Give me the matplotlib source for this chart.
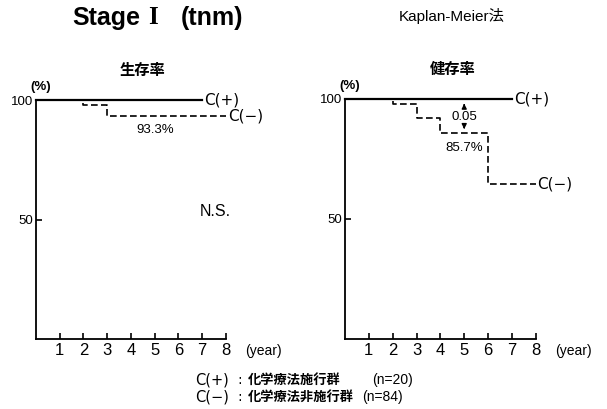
import matplotlib.pyplot as plt

plt.rcParams['font.family'] = ['Noto Sans CJK JP', 'DejaVu Sans']
LATIN = ['Liberation Sans', 'Noto Sans CJK JP']

# Kaplan-Meier step data (year, %)
os_plus_t = [0, 7]
os_plus_s = [100, 100]
os_minus_t = [0, 2, 3, 8]
os_minus_s = [100, 98, 93.3, 93.3]

dfs_plus_t = [0, 7]
dfs_plus_s = [100, 100]
dfs_minus_t = [0, 2, 3, 4, 6, 8]
dfs_minus_s = [100, 98, 92, 85.7, 64.5, 64.5]

year_ticks = [1, 2, 3, 4, 5, 6, 7, 8]
pct_ticks = [50, 100]

fig = plt.figure(figsize=(6.07, 4.09), dpi=100)
ax1 = fig.add_axes([0.0593, 0.1711, 0.3130, 0.5844])
ax2 = fig.add_axes([0.5684, 0.1720, 0.3142, 0.5860])


def setup(ax, title):
    ax.set_xlim(0, 8)
    ax.set_ylim(0, 100)
    for s in ["top", "right"]:
        ax.spines[s].set_visible(False)
    for s in ["left", "bottom"]:
        ax.spines[s].set_linewidth(1.3)
    ax.set_xticks(year_ticks)
    ax.set_yticks(pct_ticks)
    ax.tick_params(axis="x", direction="in", length=4, width=1.2, labelsize=12, pad=3)
    ax.tick_params(axis="y", direction="in", length=4, width=1.2, labelsize=9.5, pad=2)
    for lab in ax.get_xticklabels() + ax.get_yticklabels():
        lab.set_family("Liberation Sans")
    ax.text(8.8, -5, "(year)", fontsize=10, ha="left", va="center",
            family=LATIN, clip_on=False)
    ax.text(0.2, 105.5, "(%)", fontsize=9.5, ha="center", va="center",
            fontweight="bold", family=LATIN)
    ax.text(4.5, 112.5, title, fontsize=11, ha="center", va="center", fontweight="bold")


setup(ax1, "生存率")
setup(ax2, "健存率")

dash = (0, (4, 2))

ax1.step(os_plus_t, os_plus_s, where="post", color="black", lw=1.6, clip_on=False)
ax1.step(os_minus_t, os_minus_s, where="post", color="black", lw=1.2,
         linestyle=dash, clip_on=False)
ax1.text(7.1, 100, "C(+)", fontsize=11, ha="left", va="center", family="DejaVu Sans")
ax1.text(8.1, 93.3, "C(−)", fontsize=11, ha="left", va="center", family="DejaVu Sans")
ax1.text(5.0, 87.5, "93.3%", fontsize=9.5, ha="center", va="center", family=LATIN)
ax1.text(6.9, 53.5, "N.S.", fontsize=11.5, ha="left", va="center", family=LATIN)

ax2.step(dfs_plus_t, dfs_plus_s, where="post", color="black", lw=1.6, clip_on=False)
ax2.step(dfs_minus_t, dfs_minus_s, where="post", color="black", lw=1.2,
         linestyle=dash, clip_on=False)
ax2.text(7.1, 100, "C(+)", fontsize=11, ha="left", va="center", family="DejaVu Sans")
ax2.text(8.05, 64.5, "C(−)", fontsize=11, ha="left", va="center", family="DejaVu Sans")
ax2.text(5.0, 79.5, "85.7%", fontsize=9.5, ha="center", va="center", family=LATIN)
ax2.text(5.0, 92.5, "0.05", fontsize=9.5, ha="center", va="center", family=LATIN)
ax2.annotate("", xy=(5, 99.2), xytext=(5, 96),
             arrowprops=dict(arrowstyle="-|>", color="black", lw=1, mutation_scale=7))
ax2.annotate("", xy=(5, 86.3), xytext=(5, 89.3),
             arrowprops=dict(arrowstyle="-|>", color="black", lw=1, mutation_scale=7))

# titles
fig.text(72 / 607, 0.956, "Stage", fontsize=18, fontweight="bold",
         ha="left", va="center", family="Liberation Sans")
fig.text(153 / 607, 0.956, "I", fontsize=18, fontweight="bold",
         ha="center", va="center", family="Liberation Serif")
fig.text(243 / 607, 0.956, "(tnm)", fontsize=18, fontweight="bold",
         ha="right", va="center", family="Liberation Sans")
fig.text(452 / 607, 0.962, "Kaplan-Meier法", fontsize=11, ha="center", va="center",
         family=LATIN)

# group legend at the bottom
leg_y = [1 - 380 / 409, 1 - 397 / 409]
leg_code = ["C(+)", "C(−)"]
leg_name = ["化学療法施行群", "化学療法非施行群"]
leg_n = ["(n=20)", "(n=84)"]
leg_n_x = [372, 362]
for y, code, name, n, nx in zip(leg_y, leg_code, leg_name, leg_n, leg_n_x):
    fig.text(195 / 607, y, code, fontsize=10.5, ha="left", va="center", family="DejaVu Sans")
    fig.text(240 / 607, y, ":", fontsize=10, ha="center", va="center", family="DejaVu Sans")
    fig.text(248 / 607, y, name, fontsize=9.5, ha="left", va="center", fontweight="bold")
    fig.text(nx / 607, y, n, fontsize=10, ha="left", va="center", family=LATIN)

fig.savefig("out.png", dpi=100, facecolor="white")
